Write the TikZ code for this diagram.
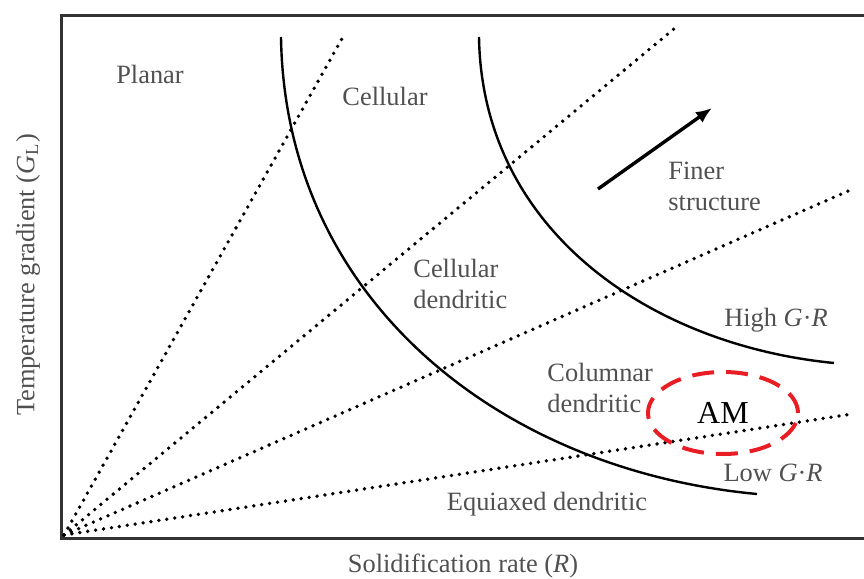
\documentclass[tikz,border=0pt]{standalone}
\usepackage{fontspec}
\setmainfont{Liberation Serif}
\usetikzlibrary{positioning,arrows.meta,shapes.geometric}
\definecolor{labelgray}{RGB}{80,80,80}
\definecolor{amred}{RGB}{232,30,36}

\begin{document}
\begin{tikzpicture}[x=0.5pt, y=-0.5pt,
  region/.style={text=labelgray, font=\fontsize{13.2}{15.5}\selectfont, inner sep=0pt},
  ray/.style={line width=1.9pt, dash pattern=on 0pt off 4pt, line cap=round},
  boundary/.style={line width=1.2pt},
  amring/.style={ellipse, draw=amred, line width=2pt, dash pattern=on 11pt off 6pt,
    minimum width=75pt, minimum height=41pt, inner sep=0pt,
    font=\fontsize{16}{18}\selectfont}]
  \useasboundingbox (0,0) rectangle (864,579);

  % axes
  \draw[line width=1.5pt, draw=black!80] (864,15) -- (61,15) -- (61,538) -- (864,538);
  \node[region, rotate=90] (ylab) at (28,275) {Temperature gradient (\textit{G}\textsubscript{L})};
  \node[region] (xlab) at (463,566) {Solidification rate (\textit{R})};

  % rays from origin
  \coordinate (O) at (64,535);
  \foreach \i/\x/\y in {1/344/35, 2/675/28, 3/855/188, 4/852/414} {
    \coordinate (r\i) at (\x,\y);
    \draw[ray] (O) -- (r\i);
  }

  % G.R curves
  \coordinate (lo1) at (281,37);
  \coordinate (lo2) at (757,494);
  \coordinate (hi1) at (479,37);
  \coordinate (hi2) at (834,363);
  \draw[boundary] (lo1) .. controls (285,300) and (500,470) .. (lo2);
  \draw[boundary] (hi1) .. controls (482,230) and (650,345) .. (hi2);

  % arrow
  \coordinate (fs) at (598,189);
  \coordinate (fe) at (712,108);
  \draw[line width=1.7pt, -{Latex[length=8pt, width=6.5pt]}] (fs) -- (fe);

  % labels
  \node[region] (planar) at (150,74) {Planar};
  \node[region] (cell) at (385,96) {Cellular};
  \node[region, align=left, anchor=west] (finer) at (668,186) {Finer\\structure};
  \node[region, align=left, anchor=west] (celldend) at (413,284) {Cellular\\dendritic};
  \node[region, align=left, anchor=west] (coldend) at (547,388) {Columnar\\dendritic};
  \node[region] (high) at (776,320) {High \textit{G}\textperiodcentered\textit{R}};
  \node[region] (low) at (773,473) {Low \textit{G}\textperiodcentered\textit{R}};
  \node[region] (equi) at (547,504) {Equiaxed dendritic};

  \node[amring] (am) at (723,413) {AM};
\end{tikzpicture}
\end{document}
